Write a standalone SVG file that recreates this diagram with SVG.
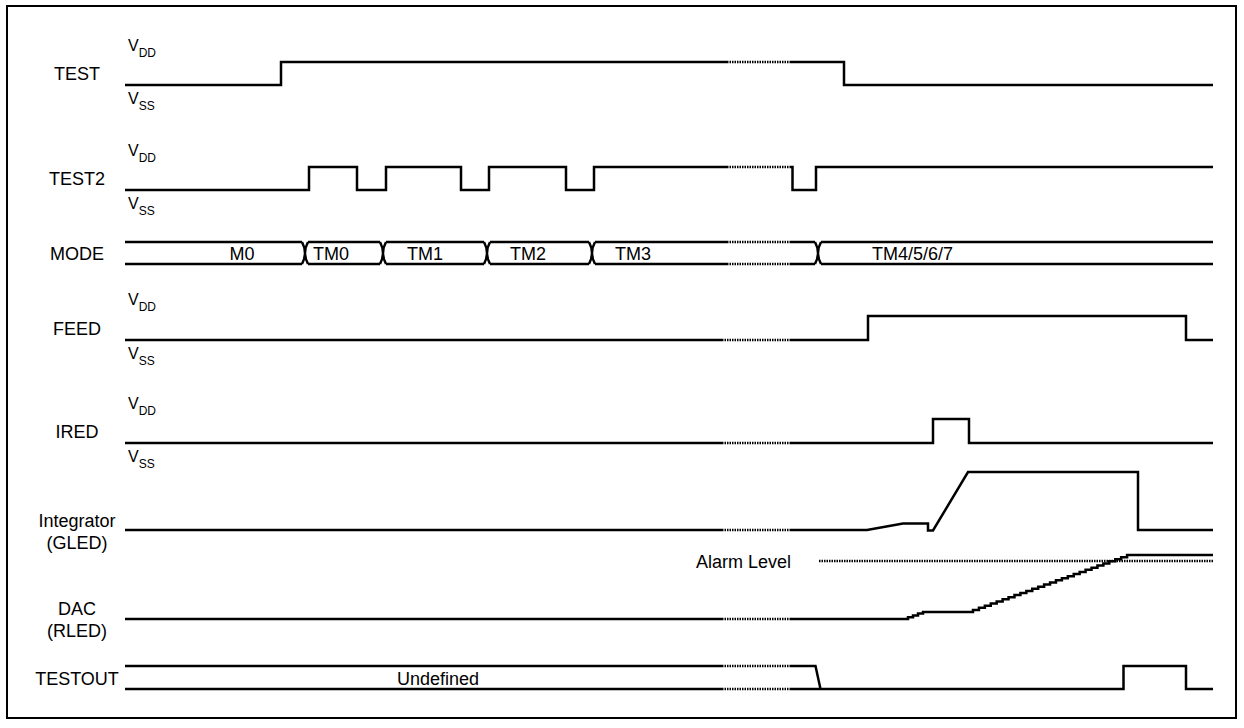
<svg xmlns="http://www.w3.org/2000/svg" width="1244" height="728" viewBox="0 0 1244 728">
<style>
.sig{fill:none;stroke:#000;stroke-width:2.5;stroke-linejoin:miter}
.dot{fill:none;stroke:#000;stroke-width:2.5;stroke-dasharray:1.5 1}
.lbl{font-family:"Liberation Sans",Arial,sans-serif;font-size:18px;fill:#000}
.nm{text-anchor:middle}
.v{font-family:"Liberation Sans",Arial,sans-serif;font-size:16px;fill:#000}
.sub{font-size:12px}
</style>
<rect x="7" y="6" width="1229" height="712" fill="#fff" stroke="#000" stroke-width="2"/>

<g id="TEST">
<text class="lbl nm" x="77" y="80">TEST</text>
<text class="v" x="128" y="51">V<tspan class="sub" dy="6">DD</tspan></text>
<text class="v" x="128" y="104">V<tspan class="sub" dy="6">SS</tspan></text>
</g>
<g id="TEST2">
<text class="lbl nm" x="77" y="185">TEST2</text>
<text class="v" x="128" y="156">V<tspan class="sub" dy="6">DD</tspan></text>
<text class="v" x="128" y="209">V<tspan class="sub" dy="6">SS</tspan></text>
</g>
<g id="MODE">
<text class="lbl nm" x="77" y="260">MODE</text>
<text class="lbl nm" x="242" y="260">M0</text>
<text class="lbl" x="313" y="260">TM0</text>
<text class="lbl" x="407" y="260">TM1</text>
<text class="lbl" x="510" y="260">TM2</text>
<text class="lbl" x="615" y="260">TM3</text>
<text class="lbl" x="872" y="260">TM4/5/6/7</text>
</g>
<g id="FEED">
<text class="lbl nm" x="77" y="335">FEED</text>
<text class="v" x="128" y="305">V<tspan class="sub" dy="6">DD</tspan></text>
<text class="v" x="128" y="359">V<tspan class="sub" dy="6">SS</tspan></text>
</g>
<g id="IRED">
<text class="lbl nm" x="77" y="438">IRED</text>
<text class="v" x="128" y="409">V<tspan class="sub" dy="6">DD</tspan></text>
<text class="v" x="128" y="462">V<tspan class="sub" dy="6">SS</tspan></text>
</g>
<g id="Integrator">
<text class="lbl nm" x="77" y="527">Integrator</text>
<text class="lbl nm" x="77" y="549">(GLED)</text>
<text class="lbl" x="696" y="568">Alarm Level</text>
</g>
<g id="DAC">
<text class="lbl nm" x="77" y="615">DAC</text>
<text class="lbl nm" x="77" y="637">(RLED)</text>
</g>
<g id="TESTOUT">
<text class="lbl nm" x="77" y="685">TESTOUT</text>
<text class="lbl" x="397" y="685">Undefined</text>
</g>

<g id="connectors">
<!-- TEST -->
<path class="sig" d="M125,85 H281 V62 H727"/>
<path class="dot" d="M727,62 H791"/>
<path class="sig" d="M791,62 H844 V85 H1213"/>
<!-- TEST2 -->
<path class="sig" d="M125,190 H309 V167 H357 V190 H386 V167 H461 V190 H489 V167 H566 V190 H594 V167 H727"/>
<path class="dot" d="M727,167 H791"/>
<path class="sig" d="M791,167 H792.5 V190 H816 V167 H1213"/>
<!-- MODE bus -->
<path class="sig" d="M125,242 H302 M308,242 H380 M386,242 H484 M490,242 H589 M595,242 H727 M791,242 H815 M821,242 H1213"/>
<path class="sig" d="M125,264 H302 M308,264 H380 M386,264 H484 M490,264 H589 M595,264 H727 M791,264 H815 M821,264 H1213"/>
<path class="dot" d="M727,242 H791 M727,264 H791"/>
<path class="sig" d="M302,242 Q308,253 302,264 M308,242 Q302,253 308,264 M380,242 Q386,253 380,264 M386,242 Q380,253 386,264 M484,242 Q490,253 484,264 M490,242 Q484,253 490,264 M589,242 Q595,253 589,264 M595,242 Q589,253 595,264 M815,242 Q821,253 815,264 M821,242 Q815,253 821,264"/>
<!-- FEED -->
<path class="sig" d="M125,340 H722"/>
<path class="dot" d="M722,340 H791"/>
<path class="sig" d="M791,340 H868 V316 H1186 V340 H1213"/>
<!-- IRED -->
<path class="sig" d="M125,443 H722"/>
<path class="dot" d="M722,443 H791"/>
<path class="sig" d="M791,443 H933 V419 H969 V443 H1213"/>
<!-- Integrator -->
<path class="sig" d="M125,530 H722"/>
<path class="dot" d="M722,530 H791"/>
<path class="sig" d="M791,530 H867 L903,523.5 H928 V530.5 H933 L968,472 H1138 V530 H1213"/>
<!-- Alarm level -->
<path class="dot" d="M819,561 H1213"/>
<!-- DAC -->
<path class="sig" d="M125,619 H722"/>
<path class="dot" d="M722,619 H791"/>
<path class="sig" d="M791,619 H908 v-1.8 h5 v-1.8 h5 v-1.8 h5 V612 H973 v-2.11h5.926 v-2.11h5.926 v-2.11h5.926 v-2.11h5.926 v-2.11h5.926 v-2.11h5.926 v-2.11h5.926 v-2.11h5.926 v-2.11h5.926 v-2.11h5.926 v-2.11h5.926 v-2.11h5.926 v-2.11h5.926 v-2.11h5.926 v-2.11h5.926 v-2.11h5.926 v-2.11h5.926 v-2.11h5.926 v-2.11h5.926 v-2.11h5.926 v-2.11h5.926 v-2.11h5.926 v-2.11h5.926 v-2.11h5.926 v-2.11h5.926 v-2.11h5.926 v-2.11h5.926 H1213"/>
<!-- TESTOUT -->
<path class="sig" d="M125,666 H722 M125,689 H722"/>
<path class="dot" d="M722,666 H791 M722,689 H791"/>
<path class="sig" d="M791,666 H815.5 L820.5,689 M791,689 H1123.5 V666 H1186 V689 H1213"/>
</g>
</svg>
